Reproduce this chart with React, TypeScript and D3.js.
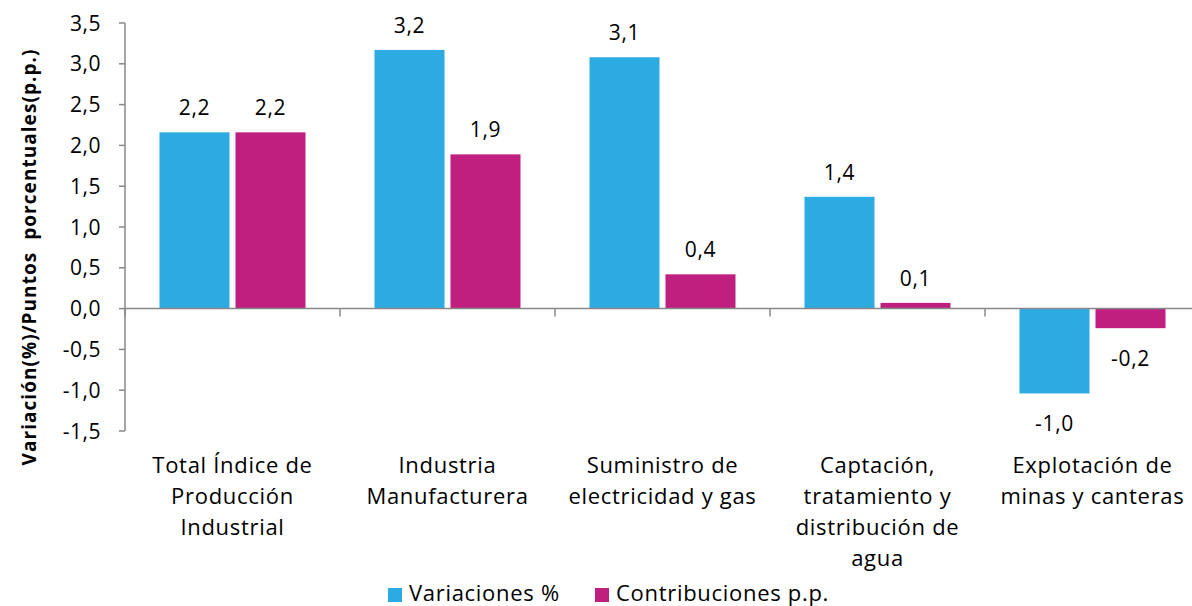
import React from "react";
import * as d3 from "d3";

const categories: string[][] = [
  ["Total Índice de", "Producción", "Industrial"],
  ["Industria", "Manufacturera"],
  ["Suministro de", "electricidad y gas"],
  ["Captación,", "tratamiento y", "distribución de", "agua"],
  ["Explotación de", "minas y canteras"],
];
const variaciones = [2.16, 3.17, 3.08, 1.37, -1.04];
const contribuciones = [2.16, 1.89, 0.42, 0.07, -0.24];
const seriesNames = ["Variaciones %", "Contribuciones p.p."];
const colors = ["#2CAAE2", "#BF2080"];
const yTicks = [-1.5, -1.0, -0.5, 0, 0.5, 1.0, 1.5, 2.0, 2.5, 3.0, 3.5];

const W = 1192;
const H = 606;
const FONT = "'Open Sans', Lato, sans-serif";

export default function App() {
  const left = 125;
  const bandW = 215;
  const x = d3
    .scaleBand<number>()
    .domain(d3.range(categories.length))
    .range([left, left + bandW * categories.length])
    .paddingInner(0)
    .paddingOuter(0);
  const y = d3.scaleLinear().domain([-1.5, 3.5]).range([431, 23]);
  const barW = 70;
  const gap = 6;
  const fmt = (v: number) => v.toFixed(1).replace(".", ",");
  const axisColor = "#888888";
  const series = [variaciones, contribuciones];
  const ls = 0.7;

  return (
    <svg width={W} height={H} style={{ display: "block", position: "absolute", left: 0, top: 0 }} fontFamily={FONT}>
      <rect width={W} height={H} fill="#fff" />
      {series.map((vals, si) =>
        vals.map((v, i) => {
          const bx = (x(i) as number) + (bandW - (2 * barW + gap)) / 2 + si * (barW + gap);
          const y0 = y(0);
          const y1 = y(v);
          return (
            <g key={`${si}-${i}`}>
              <rect x={bx} y={Math.min(y0, y1)} width={barW} height={Math.abs(y1 - y0)} fill={colors[si]} />
              <text
                x={bx + barW / 2}
                y={v >= 0 ? y1 - 17 : y1 + 38}
                textAnchor="middle"
                fontSize={21}
                letterSpacing={ls}
                fill="#000"
              >
                {fmt(v)}
              </text>
            </g>
          );
        })
      )}
      <line x1={left} x2={left} y1={y(3.5)} y2={y(-1.5)} stroke={axisColor} strokeWidth={1.5} />
      {yTicks.map((t) => (
        <g key={t}>
          <line x1={left - 6} x2={left} y1={y(t)} y2={y(t)} stroke={axisColor} strokeWidth={1.5} />
          <text x={101} y={y(t) + 7.5} textAnchor="end" fontSize={21} letterSpacing={0.5} fill="#000">
            {fmt(t)}
          </text>
        </g>
      ))}
      <line x1={left} x2={left + bandW * categories.length} y1={y(0)} y2={y(0)} stroke={axisColor} strokeWidth={1.5} />
      {d3.range(categories.length + 1).map((i) => (
        <line
          key={i}
          x1={left + i * bandW}
          x2={left + i * bandW}
          y1={y(0)}
          y2={y(0) + 8}
          stroke={axisColor}
          strokeWidth={1.5}
        />
      ))}
      {categories.map((lines, i) => (
        <text key={i} textAnchor="middle" fontSize={22} letterSpacing={ls} fill="#000">
          {lines.map((ln, li) => (
            <tspan key={li} x={(x(i) as number) + bandW / 2} y={473 + li * 31}>
              {ln}
            </tspan>
          ))}
        </text>
      ))}
      <text
        transform={`translate(36, 257) rotate(-90)`}
        textAnchor="middle"
        fontSize={19}
        fontWeight="bold"
        letterSpacing={1.05}
        fill="#000"
        style={{ whiteSpace: "pre" }}
      >
        {"Variación(%)/Puntos  porcentuales(p.p.)"}
      </text>
      {seriesNames.map((n, i) => {
        const lx = [388, 595][i];
        return (
          <g key={n}>
            <rect x={lx} y={588} width={14} height={14} fill={colors[i]} />
            <text x={lx + 21} y={601} fontSize={22} letterSpacing={ls} fill="#000">
              {n}
            </text>
          </g>
        );
      })}
    </svg>
  );
}
